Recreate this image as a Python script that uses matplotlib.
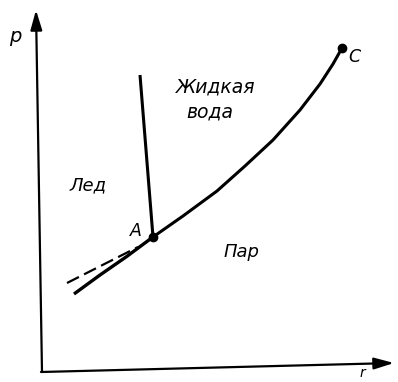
import matplotlib
matplotlib.use('Agg')
import matplotlib.pyplot as plt

# Phase diagram of water (sketch), T to the right, p upward
T_sub = [74, 100, 126, 153]
p_sub = [88, 107, 125, 145]

T_vap = [153, 183, 217, 245, 273, 300, 320, 333, 342]
p_vap = [145, 166, 191, 216, 242, 272, 298, 318, 334]

T_melt = [140, 153]
p_melt = [307, 145]

T_super = [67, 138]
p_super = [99, 135]

point_A = (153, 145)
point_C = (342, 334)

fig = plt.figure(figsize=(3.98, 3.82), dpi=100)
ax = fig.add_axes([0, 0, 1, 1])
ax.set_xlim(0, 398)
ax.set_ylim(0, 382)
ax.axis('off')

# axes drawn by hand as arrows
arrow = dict(arrowstyle='-|>,head_length=1.2,head_width=0.35', lw=1.6,
             color='black', shrinkA=0, shrinkB=0)
ax.annotate('', xy=(36, 372), xytext=(42, 10), arrowprops=arrow)
ax.annotate('', xy=(394, 19), xytext=(41, 10), arrowprops=arrow)

ax.plot(T_sub, p_sub, color='black', lw=2.4, solid_capstyle='butt')
ax.plot(T_vap, p_vap, color='black', lw=2.2, solid_capstyle='round',
        solid_joinstyle='round')
ax.plot(T_melt, p_melt, color='black', lw=2.2, solid_capstyle='butt')
ax.plot(T_super, p_super, color='black', lw=1.6, dashes=(6, 2.6))

ax.plot(*point_A, 'o', color='black', ms=6)
ax.plot(*point_C, 'o', color='black', ms=6)

txt = dict(fontstyle='italic', color='black', family='DejaVu Sans')
ax.text(15, 345, 'p', fontsize=14, ha='center', va='center', **txt)
ax.text(362, 9, 'r', fontsize=10, ha='center', va='center', **txt)
ax.text(136, 151, 'A', fontsize=12.5, ha='center', va='center', **txt)
ax.text(354, 325, 'C', fontsize=12.5, ha='center', va='center', **txt)
ax.text(88, 197, 'Лед', fontsize=13, ha='center', va='center', **txt)
ax.text(216, 295, 'Жидкая', fontsize=13.5, ha='center', va='center', **txt)
ax.text(210, 270, 'вода', fontsize=13.5, ha='center', va='center', **txt)
ax.text(241, 130, 'Пар', fontsize=13, ha='center', va='center', **txt)

fig.savefig('out.png', dpi=100, facecolor='white')
